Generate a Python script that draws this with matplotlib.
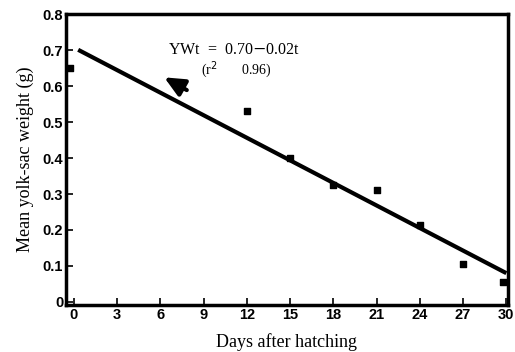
"""Mean yolk-sac weight vs days after hatching, with linear fit."""
import matplotlib.pyplot as plt
import numpy as np

days = [-0.3, 12, 15, 18, 21, 24, 27, 29.8]
yolk_weight = [0.65, 0.53, 0.40, 0.325, 0.31, 0.215, 0.105, 0.055]
fit_days = [0.3, 30]
intercept, slope = 0.707, -0.0209
x_ticks = [0, 3, 6, 9, 12, 15, 18, 21, 24, 27, 30]
y_ticks = [0, 0.1, 0.2, 0.3, 0.4, 0.5, 0.6, 0.7, 0.8]
y_labels = ["0", "0.1", "0.2", "0.3", "0.4", "0.5", "0.6", "0.7", "0.8"]


def main():
    fig = plt.figure(figsize=(5.15, 3.52), dpi=100)
    ax = fig.add_axes([0.128, 0.134, 0.858, 0.826])

    fx = np.array(fit_days)
    ax.plot(fx, intercept + slope * fx, color="black", lw=3, solid_capstyle="butt")
    ax.scatter(days, yolk_weight, marker="s", s=22, color="black", zorder=3)

    ax.set_xlim(-0.55, 30.1)
    ax.set_ylim(-0.008, 0.79)
    ax.set_xticks(x_ticks)
    ax.set_yticks(y_ticks)
    ax.set_yticklabels(y_labels)
    ax.tick_params(direction="in", length=5, width=1.2, pad=2)
    for lab in ax.get_xticklabels() + ax.get_yticklabels():
        lab.set_fontfamily("Liberation Sans")
        lab.set_fontweight("bold")
        lab.set_fontsize(10.5)
    for sp in ax.spines.values():
        sp.set_linewidth(2.5)

    ax.set_xlabel("Days after hatching", family="Liberation Serif", fontsize=13, labelpad=8)
    ax.set_ylabel("Mean yolk-sac weight (g)", family="Liberation Serif", fontsize=13, labelpad=6)

    ax.text(6.5, 0.688, "YWt  =  0.70$-$0.02t", family="Liberation Serif", fontsize=11.5)
    ax.text(8.8, 0.635, "(r$^2$       0.96)", family="Liberation Serif", fontsize=10)
    ax.annotate("", xy=(6.1, 0.628), xytext=(8.0, 0.585),
                arrowprops=dict(arrowstyle="-|>,head_length=1.2,head_width=0.55",
                                color="black", lw=3))

    fig.savefig("out.png", dpi=100)


if __name__ == "__main__":
    main()
